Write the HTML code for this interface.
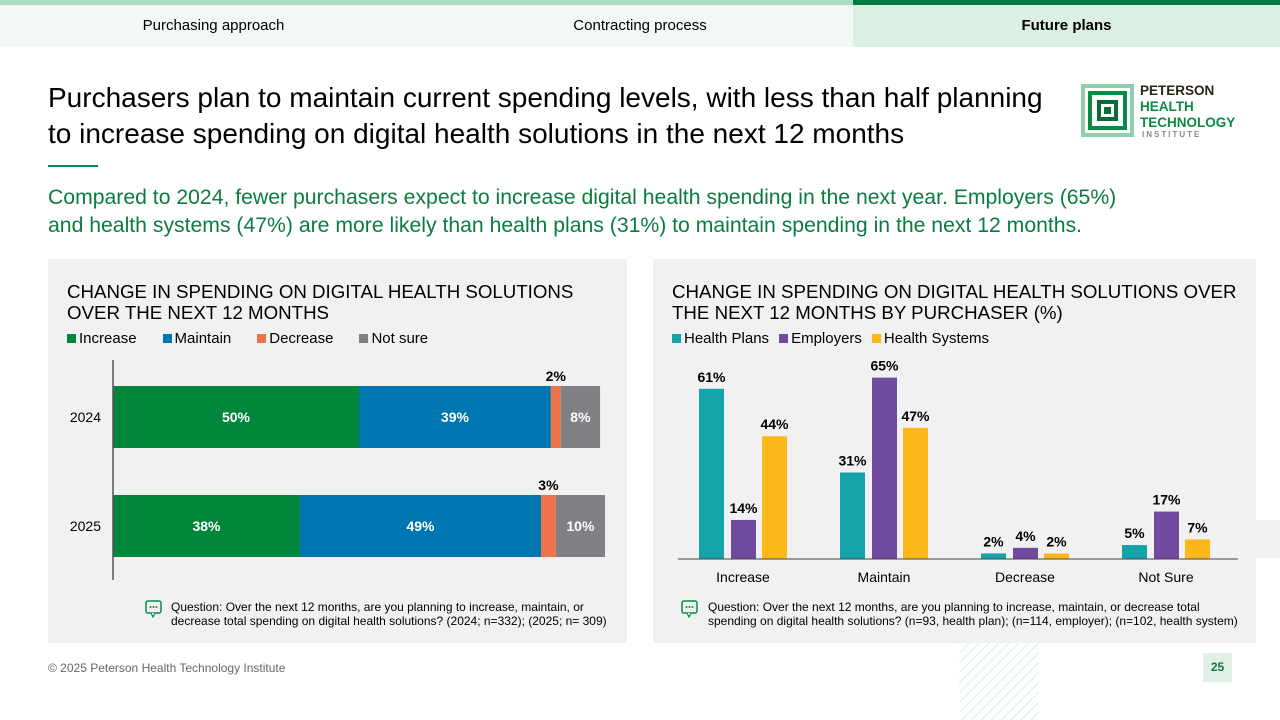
<!DOCTYPE html>
<html><head><meta charset="utf-8"><style>
*{margin:0;padding:0;box-sizing:border-box}
body{width:1280px;height:720px;position:relative;background:#fff;font-family:"Liberation Sans",Arial,sans-serif;overflow:hidden;color:#000}
.abs{position:absolute}
.tab{position:absolute;top:5px;height:42px;line-height:42px;text-align:center;font-size:15px}
.panel{position:absolute;background:#f1f1f1}
.ptitle{position:absolute;font-size:18.7px;line-height:21px;color:#000}
.leg{position:absolute;font-size:15px;display:flex;gap:0}
.leg span{display:inline-flex;align-items:center;margin-right:26px}
.leg i{display:inline-block;width:9px;height:9px;margin-right:3px}
.note{position:absolute;font-size:12px;line-height:14px}
</style></head><body>
<div class="abs" style="left:0;top:0;width:853px;height:5px;background:#a9dcc3"></div>
<div class="abs" style="left:853px;top:0;width:427px;height:5px;background:#007a3d"></div>
<div class="tab" style="left:0;width:427px;background:#f4f8f5">Purchasing approach</div>
<div class="tab" style="left:427px;width:426px;background:#f4f8f5">Contracting process</div>
<div class="tab" style="left:853px;width:427px;background:#dcefe4;font-weight:bold">Future plans</div>

<div class="abs" style="left:48px;top:80px;font-size:28px;line-height:36px;width:1010px">Purchasers plan to maintain current spending levels, with less than half planning to increase spending on digital health solutions in the next 12 months</div>
<div class="abs" style="left:48px;top:165px;width:50px;height:2px;background:#0a8a45"></div>
<div class="abs" style="left:48px;top:184px;font-size:21.2px;line-height:28px;color:#0a7d3e;width:1100px">Compared to 2024, fewer purchasers expect to increase digital health spending in the next year. Employers (65%) and health systems (47%) are more likely than health plans (31%) to maintain spending in the next 12 months.</div>

<svg class="abs" style="left:1080px;top:83px" width="160" height="58">
<rect x="1" y="1" width="53" height="53" fill="#8fd0ac"/><rect x="5" y="5" width="45" height="45" fill="#fff"/>
<rect x="8" y="8" width="39" height="39" fill="#0a8a45"/><rect x="12" y="12" width="31" height="31" fill="#fff"/>
<rect x="17" y="17" width="21" height="21" fill="#0a6b35"/><rect x="21" y="21" width="13" height="13" fill="#fff"/>
<rect x="24" y="24" width="7" height="7" fill="#0a6b35"/>
<text x="60" y="12" font-size="13.5" font-weight="bold" fill="#2a2416">PETERSON</text>
<text x="60" y="28" font-size="13.5" font-weight="bold" fill="#0a8a45">HEALTH</text>
<text x="60" y="44" font-size="13.5" font-weight="bold" fill="#0a8a45">TECHNOLOGY</text>
<text x="62" y="54" font-size="8" font-weight="bold" fill="#888" letter-spacing="2">INSTITUTE</text>
</svg>

<div class="panel" style="left:48px;top:259px;width:579px;height:384px"></div>
<div class="ptitle" style="left:67px;top:281px">CHANGE IN SPENDING ON DIGITAL HEALTH SOLUTIONS<br>OVER THE NEXT 12 MONTHS</div>
<div class="leg" style="left:67px;top:330px">
<span><i style="background:#00873c"></i>Increase</span>
<span><i style="background:#0076b0"></i>Maintain</span>
<span><i style="background:#ef7349"></i>Decrease</span>
<span><i style="background:#7f8184"></i>Not sure</span>
</div>
<svg class="abs" id="lc" style="left:0;top:0" width="640" height="660"></svg>
<svg class="abs" style="left:145px;top:600px" width="18" height="18"><rect x="1" y="1" width="15" height="12" rx="2" fill="none" stroke="#0a8a45" stroke-width="1.5"/><path d="M6 13 L8 17 L10 13" fill="#fff" stroke="#0a8a45" stroke-width="1.2"/><circle cx="5.5" cy="7" r="1" fill="#0a8a45"/><circle cx="8.5" cy="7" r="1" fill="#0a8a45"/><circle cx="11.5" cy="7" r="1" fill="#0a8a45"/></svg>
<div class="note" style="left:171px;top:600px">Question: Over the next 12 months, are you planning to increase, maintain, or<br>decrease total spending on digital health solutions? (2024; n=332); (2025; n= 309)</div>

<div class="panel" style="left:653px;top:259px;width:603px;height:384px"></div>
<div class="panel" style="left:1256px;top:520px;width:24px;height:38px"></div>
<div class="ptitle" style="left:672px;top:281px">CHANGE IN SPENDING ON DIGITAL HEALTH SOLUTIONS OVER<br>THE NEXT 12 MONTHS BY PURCHASER (%)</div>
<div class="leg" style="left:672px;top:330px">
<span style="margin-right:10px"><i style="background:#13a3a8"></i>Health Plans</span>
<span style="margin-right:10px"><i style="background:#6f4a9e"></i>Employers</span>
<span><i style="background:#fdb71a"></i>Health Systems</span>
</div>
<svg class="abs" id="rc" style="left:0;top:0" width="1280" height="660"></svg>
<svg class="abs" style="left:681px;top:600px" width="18" height="18"><rect x="1" y="1" width="15" height="12" rx="2" fill="none" stroke="#0a8a45" stroke-width="1.5"/><path d="M6 13 L8 17 L10 13" fill="#fff" stroke="#0a8a45" stroke-width="1.2"/><circle cx="5.5" cy="7" r="1" fill="#0a8a45"/><circle cx="8.5" cy="7" r="1" fill="#0a8a45"/><circle cx="11.5" cy="7" r="1" fill="#0a8a45"/></svg>
<div class="note" style="left:708px;top:600px">Question: Over the next 12 months, are you planning to increase, maintain, or decrease total<br>spending on digital health solutions? (n=93, health plan); (n=114, employer); (n=102, health system)</div>

<svg class="abs" style="left:959px;top:643px" width="80" height="77">
<defs><pattern id="h" width="7" height="7" patternUnits="userSpaceOnUse" patternTransform="rotate(45)"><line x1="0" y1="0" x2="0" y2="7" stroke="#bfe6d3" stroke-width="1.2"/></pattern></defs>
<rect width="80" height="77" fill="url(#h)"/></svg>
<div class="abs" style="left:48px;top:661px;font-size:12px;color:#666">© 2025 Peterson Health Technology Institute</div>
<div class="abs" style="left:1203px;top:653px;width:29px;height:29px;background:#e3f0e8;color:#0a7d3e;font-weight:bold;font-size:12px;line-height:29px;text-align:center">25</div>

<script>
const years=["2024","2025"];
const increase=[50,38];
const maintain=[39,49];
const decrease=[2,3];
const notSure=[8,10];
const cats=["Increase","Maintain","Decrease","Not Sure"];
const healthPlans=[61,31,2,5];
const employers=[14,65,4,17];
const healthSystems=[44,47,2,7];

const NS="http://www.w3.org/2000/svg";
function mk(svg,t,a,txt){const e=document.createElementNS(NS,t);for(const k in a)e.setAttribute(k,a[k]);if(txt!==undefined)e.textContent=txt;svg.appendChild(e);return e;}

const lc=document.getElementById('lc');
const x0=113,pxPer=4.92;
const xs=v=>x0+v*pxPer;
const rowY=i=>386+i*109, bh=62;
const series=[[increase,"#00873c","increase"],[maintain,"#0076b0","maintain"],[decrease,"#ef7349","decrease"],[notSure,"#7f8184","not-sure"]];
years.forEach((y,i)=>{
  let cum=0;
  const lab=mk(lc,'text',{x:101,y:rowY(i)+bh/2+5,'text-anchor':'end','font-size':14},y);
  
  
  series.forEach(([arr,col,nm])=>{
    const v=arr[i];
    const r=mk(lc,'rect',{x:xs(cum),y:rowY(i),width:v*pxPer,height:bh,fill:col});
    
    
    const small=v<5;
    const t=mk(lc,'text',{x:xs(cum+v/2),y:small?rowY(i)-5:rowY(i)+bh/2+5,'text-anchor':'middle','font-size':14,'font-weight':'bold',fill:small?'#000':'#fff'},v+'%');
    
    
    cum+=v;
  });
});
const ax=mk(lc,'line',{x1:x0,y1:360,x2:x0,y2:580,stroke:'#555','stroke-width':1.5});



const rc=document.getElementById('rc');
const base=559,hp=2.79;
const ys=v=>base-v*hp;
const cx=i=>743+i*141;
const grp=[[healthPlans,"#13a3a8",-44,"health-plans"],[employers,"#6f4a9e",-12,"employers"],[healthSystems,"#fdb71a",19,"health-systems"]];
cats.forEach((c,i)=>{
  grp.forEach(([arr,col,off,nm])=>{
    const v=arr[i];
    const r=mk(rc,'rect',{x:cx(i)+off,y:ys(v),width:25,height:v*hp,fill:col});
    
    
    const t=mk(rc,'text',{x:cx(i)+off+12.5,y:ys(v)-7,'text-anchor':'middle','font-size':14,'font-weight':'bold'},v+'%');
    
    
  });
  const l=mk(rc,'text',{x:cx(i),y:582,'text-anchor':'middle','font-size':14},c);
  
  
});
const bl=mk(rc,'line',{x1:678,y1:base,x2:1238,y2:base,stroke:'#444','stroke-width':1});


</script>
</body></html>
